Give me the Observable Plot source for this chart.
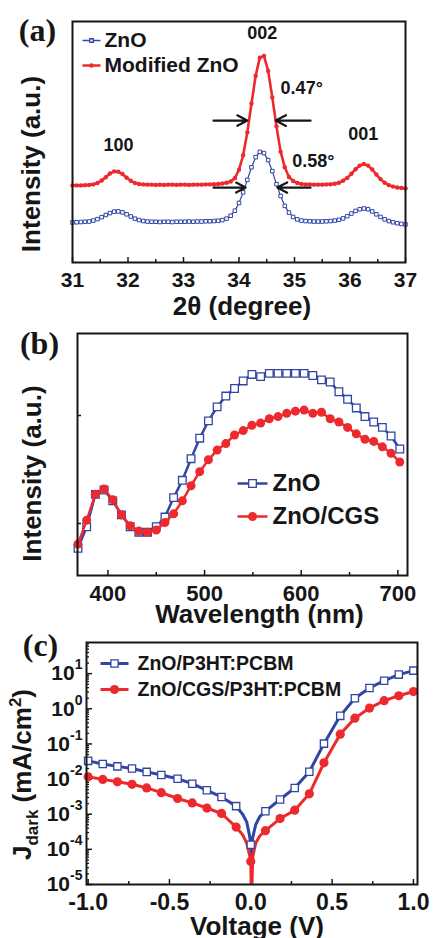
<!DOCTYPE html>
<html>
<head>
<meta charset="utf-8">
<script src="https://cdn.jsdelivr.net/npm/d3@7"></script>
<script src="https://cdn.jsdelivr.net/npm/@observablehq/plot@0.6"></script>
<style>
  html, body { margin: 0; padding: 0; background: #fff; }
  #chart { width: 433px; }
  #chart svg { display: block; overflow: visible; }
</style>
</head>
<body>
<div id="chart"></div>
<script>
// ---------------- Panel (a): XRD ----------------
const xrdAngle = [31.000,31.075,31.150,31.225,31.300,31.375,31.450,31.525,31.600,31.675,31.750,31.825,31.900,31.975,32.050,32.125,32.200,32.275,32.350,32.425,32.500,32.575,32.650,32.725,32.800,32.875,32.950,33.025,33.100,33.175,33.250,33.325,33.400,33.475,33.550,33.625,33.700,33.775,33.850,33.925,34.000,34.075,34.150,34.225,34.300,34.375,34.450,34.525,34.600,34.675,34.750,34.825,34.900,34.975,35.050,35.125,35.200,35.275,35.350,35.425,35.500,35.575,35.650,35.725,35.800,35.875,35.950,36.025,36.100,36.175,36.250,36.325,36.400,36.475,36.550,36.625,36.700,36.775,36.850,36.925,37.000];
const xrdZnO = [16.6,16.7,16.8,16.9,17.0,17.4,18.0,18.8,19.7,20.5,
  21.1,21.2,20.8,20.0,19.1,18.2,17.6,17.2,17.0,16.9,
  16.9,16.8,16.9,16.9,16.8,16.9,16.9,16.9,17.0,16.9,
  17.0,17.0,17.1,17.1,17.2,17.3,17.6,18.2,19.4,21.5,
  24.7,29.1,34.3,39.5,43.7,45.9,45.4,42.5,37.9,32.5,
  27.6,23.5,20.7,18.9,17.9,17.4,17.2,17.1,17.0,17.0,
  17.0,17.1,17.2,17.4,17.7,18.3,19.2,20.3,21.4,22.1,
  22.4,22.1,21.2,20.0,18.9,17.9,17.2,16.7,16.3,16.0,15.8];
const xrdModified = [32.0,32.0,32.0,32.1,32.2,32.4,33.0,34.0,35.4,36.9,
  37.8,37.7,36.7,35.2,33.9,33.0,32.6,32.4,32.3,32.3,
  32.2,32.3,32.2,32.3,32.3,32.2,32.3,32.3,32.2,32.3,
  32.3,32.3,32.4,32.4,32.5,32.6,32.8,33.1,33.6,35.0,
  38.5,44.5,54.0,66.0,77.5,85.0,85.7,79.5,68.5,56.5,
  46.0,39.5,35.5,33.8,33.0,32.6,32.4,32.4,32.3,32.3,
  32.3,32.4,32.5,32.7,33.1,33.9,35.1,36.8,38.7,40.2,
  40.9,40.2,38.6,36.5,34.6,33.1,32.1,31.5,31.1,30.9,30.7];
const xrdTicksMajor = [31, 32, 33, 34, 35, 36, 37];
const xrdTickLabels = ["31", "32", "33", "34", "35", "36", "37"];
const xrdTicksMinor = [31.5, 32.5, 33.5, 34.5, 35.5, 36.5];
const xrdPeakLabels = [
  {label: "002", angle: 34.42, intensity: 95.2},
  {label: "100", angle: 31.83, intensity: 48.5},
  {label: "001", angle: 36.24, intensity: 53.1},
  {label: "0.47°", angle: 35.13, intensity: 72.5},
  {label: "0.58°", angle: 35.34, intensity: 42.0}
];
const fwhmArrows = [
  {from: 33.54, to: 34.15, intensity: 58.9},
  {from: 35.29, to: 34.66, intensity: 58.9},
  {from: 33.54, to: 34.12, intensity: 31.1},
  {from: 35.29, to: 34.69, intensity: 31.1}
];
const xrdSeriesNames = ["ZnO", "Modified ZnO"];

// ---------------- Panel (b): PL ----------------
const plWavelength = [369,378,387,396,405,414,423,432,441,450,459,468,477,486,495,504,513,522,531,540,549,558,567,576,585,594,603,612,621,630,639,648,657,666,675,684,693,702];
const plZnO = [-0.23,-0.03,0.27,0.31,0.21,0.08,-0.03,-0.08,-0.08,-0.03,0.06,0.24,0.40,0.60,0.79,0.95,1.08,1.18,1.25,1.32,1.38,1.36,1.39,1.39,1.39,1.39,1.39,1.37,1.33,1.31,1.22,1.15,1.07,0.99,0.94,0.89,0.81,0.69];
const plZnOCGS = [-0.19,0.03,0.27,0.32,0.22,0.08,-0.02,-0.07,-0.08,-0.06,0.01,0.09,0.21,0.35,0.48,0.59,0.68,0.74,0.82,0.86,0.91,0.93,0.97,0.99,1.02,1.04,1.05,1.02,1.03,0.97,0.94,0.89,0.83,0.78,0.76,0.71,0.65,0.57];
const plTicksMajor = [400, 500, 600, 700];
const plTickLabels = ["400", "500", "600", "700"];
const plTicksMinor = [450, 550, 650];
const plTicksY = [0, 1];
const plSeriesNames = ["ZnO", "ZnO/CGS"];

// ---------------- Panel (c): dark J-V ----------------
const jvVoltage = [-1.00,-0.91,-0.82,-0.73,-0.64,-0.55,-0.45,-0.36,-0.27,-0.18,-0.09,0.00,0.09,0.18,0.27,0.36,0.45,0.55,0.64,0.73,0.82,0.91,1.00];
const jvZnO = [0.033,0.027,0.023,0.020,0.016,0.013,0.0102,0.0074,0.0048,0.0031,0.0017,0.000136,0.00122,0.00263,0.0056,0.0162,0.102,0.63,2.0,3.9,6.3,9.4,12.2];
const jvZnOCGS = [0.0116,0.0098,0.0084,0.0071,0.0056,0.0041,0.0028,0.0021,0.0015,0.00105,0.00043,0.000045,0.00034,0.00075,0.0013,0.0038,0.029,0.19,0.54,1.05,1.7,2.35,3.1];
const jvDipVoltage = [-0.05, -0.025, -0.008, 0.004, 0.012, 0.03, 0.055];
const jvDipZnO = [0.0010, 0.0006, 0.00025, 0.00006, 0.00022, 0.0005, 0.00085];
const jvDipZnOCGS = [0.00026, 0.00015, 0.00007, 0.000003, 0.00006, 0.00015, 0.00024];
const jvTicksMajor = [-1, -0.5, 0, 0.5, 1];
const jvTickLabels = ["-1.0", "-0.5", "0.0", "0.5", "1.0"];
const jvTicksMinor = [-0.75, -0.25, 0.25, 0.75];
const jDecades = [1e-5, 1e-4, 1e-3, 1e-2, 1e-1, 1, 10];
const jDecadeLabels = ["10^-5", "10^-4", "10^-3", "10^-2", "10^-1", "10^0", "10^1"];
const jvSeriesNames = ["ZnO/P3HT:PCBM", "ZnO/CGS/P3HT:PCBM"];

// ---------------- Text ----------------
const panelLetters = ["(a)", "(b)", "(c)"];
const intensityTitle = "Intensity (a.u.)";
const xrdXTitle = "2θ (degree)";
const plXTitle = "Wavelength (nm)";
const jvXTitle = "Voltage (V)";
const jvYTitle = "J_dark (mA/cm^2)";

// ---------------- Styles ----------------
const FONT = "Liberation Sans, Arial, Helvetica, sans-serif";
const SERIF = "Liberation Serif, Times New Roman, serif";
const BLUE = "#3145a5";
const RED = "#ec2a2e";
const INK = "#161616";

const segment = {draw(ctx, size) { const w = Math.sqrt(size / Math.PI); ctx.moveTo(-w, 0); ctx.lineTo(w, 0); }};

function legendEntry({dx, dy, color, label, marker, markerR, fontSize, half, lineWidth, textDx}) {
  return [
    Plot.dot([0], {frameAnchor: "top-left", dx, dy, r: half, symbol: segment, stroke: color, strokeWidth: lineWidth, fill: "none"}),
    marker === "square"
      ? Plot.dot([0], {frameAnchor: "top-left", dx, dy, r: markerR, symbol: "square", stroke: color, strokeWidth: 1.3, fill: "white"})
      : Plot.dot([0], {frameAnchor: "top-left", dx, dy, r: markerR, symbol: "circle", fill: color, stroke: "none"}),
    Plot.text([label], {frameAnchor: "top-left", dx: textDx, dy, textAnchor: "start", lineAnchor: "middle", fontSize, fontWeight: "bold", fontFamily: FONT, fill: INK})
  ];
}
function bottomTicks(major, minor, labels, fontSize, pad) {
  return [
    Plot.axisX(minor, {anchor: "bottom", tickSize: -3, strokeWidth: 1.5, stroke: INK, fill: "none", label: null}),
    Plot.axisX(major, {anchor: "bottom", tickSize: -5, strokeWidth: 1.5, stroke: INK, fill: "none", label: null}),
    Plot.axisX(major, {anchor: "bottom", tickSize: 0, tickPadding: pad, tickFormat: d => labels[major.indexOf(d)], fontSize, fontWeight: "bold", fontFamily: FONT, fill: INK, label: null})
  ];
}
function titleMarks({xTitle, xdx, xdy, yTitle, ydx, ydy, letter, ldx, ldy}) {
  return [
    Plot.text([xTitle], {frameAnchor: "bottom", dx: xdx, dy: xdy, textAnchor: "middle", lineAnchor: "middle", fontSize: 26, fontWeight: "bold", fontFamily: FONT, fill: INK}),
    Plot.text([yTitle], {frameAnchor: "left", dx: ydx, dy: ydy, rotate: -90, textAnchor: "middle", lineAnchor: "middle", fontSize: 26, fontWeight: "bold", fontFamily: FONT, fill: INK}),
    Plot.text([letter], {frameAnchor: "top-left", dx: ldx, dy: ldy, textAnchor: "middle", lineAnchor: "middle", fontSize: 32, fontWeight: "bold", fontFamily: SERIF, fill: INK})
  ];
}
const baseStyle = {background: "transparent", overflow: "visible"};

// ---------- (a) ----------
const xrdRows = xrdAngle.map((angle, i) => ({angle, zno: xrdZnO[i], modified: xrdModified[i]}));
const plotA = Plot.plot({
  width: 433, height: 322,
  marginTop: 21, marginRight: 28, marginBottom: 60, marginLeft: 72,
  style: baseStyle,
  x: {domain: [31, 37]},
  y: {domain: [0, 100], axis: null},
  marks: [
    ...bottomTicks(xrdTicksMajor, xrdTicksMinor, xrdTickLabels, 21, 10),
    Plot.line(xrdRows, {x: "angle", y: "zno", stroke: BLUE, strokeWidth: 1.2}),
    Plot.dot(xrdRows, {x: "angle", y: "zno", symbol: "square", r: 2, stroke: BLUE, strokeWidth: 1, fill: "white"}),
    Plot.line(xrdRows, {x: "angle", y: "modified", stroke: RED, strokeWidth: 2.6}),
    Plot.dot(xrdRows, {x: "angle", y: "modified", r: 2.2, fill: RED}),
    Plot.arrow(fwhmArrows, {x1: "from", x2: "to", y1: "intensity", y2: "intensity", stroke: INK, strokeWidth: 2.2, headLength: 9, headAngle: 55}),
    Plot.text(xrdPeakLabels, {x: "angle", y: "intensity", text: "label", fontSize: 18, fontWeight: "bold", fontFamily: FONT, fill: INK}),
    ...legendEntry({dx: 19, dy: 19, color: BLUE, label: xrdSeriesNames[0], marker: "square", markerR: 2, fontSize: 21, half: 9, lineWidth: 1.5, textDx: 32}),
    ...legendEntry({dx: 19, dy: 44, color: RED, label: xrdSeriesNames[1], marker: "circle", markerR: 2.2, fontSize: 21, half: 9, lineWidth: 2.5, textDx: 32}),
    ...titleMarks({xTitle: xrdXTitle, xdx: 3, xdy: 44, yTitle: intensityTitle, ydx: -41, ydy: 22, letter: panelLetters[0], ldx: -35, ldy: 9}),
    Plot.frame({stroke: INK, strokeWidth: 2})
  ]
});

// ---------- (b) ----------
const plRows = plWavelength.map((w, i) => ({w, zno: plZnO[i], cgs: plZnOCGS[i]}));
const plotB = Plot.plot({
  width: 433, height: 310,
  marginTop: 11, marginRight: 26, marginBottom: 57, marginLeft: 77,
  style: baseStyle,
  x: {domain: [368.5, 710]},
  y: {domain: [-0.481, 1.759]},
  marks: [
    ...bottomTicks(plTicksMajor, plTicksMinor, plTickLabels, 22, 10),
    Plot.axisY(plTicksY, {anchor: "left", tickSize: -4, strokeWidth: 1.5, stroke: INK, fill: "none", label: null}),
    Plot.line(plRows, {x: "w", y: "zno", stroke: BLUE, strokeWidth: 2.5}),
    Plot.dot(plRows, {x: "w", y: "zno", symbol: "square", r: 4.3, stroke: BLUE, strokeWidth: 1.3, fill: "white"}),
    Plot.line(plRows, {x: "w", y: "cgs", stroke: RED, strokeWidth: 2.5}),
    Plot.dot(plRows, {x: "w", y: "cgs", r: 4.5, fill: RED}),
    ...legendEntry({dx: 175, dy: 150, color: BLUE, label: plSeriesNames[0], marker: "square", markerR: 4.3, fontSize: 24, half: 15, lineWidth: 2.5, textDx: 195}),
    ...legendEntry({dx: 175, dy: 183, color: RED, label: plSeriesNames[1], marker: "circle", markerR: 4.5, fontSize: 24, half: 15, lineWidth: 2.5, textDx: 195}),
    ...titleMarks({xTitle: plXTitle, xdx: 17, xdy: 39, yTitle: intensityTitle, ydx: -45, ydy: 19, letter: panelLetters[1], ldx: -38, ldy: 10}),
    Plot.frame({stroke: INK, strokeWidth: 2})
  ]
});

// ---------- (c) ----------
const jvMarkerRows = jvVoltage.map((v, i) => ({v, zno: jvZnO[i], cgs: jvZnOCGS[i]}));
const jvLineRows = jvMarkerRows.concat(jvDipVoltage.map((v, i) => ({v, zno: jvDipZnO[i], cgs: jvDipZnOCGS[i]}))).sort((a, b) => a.v - b.v);
const jMinor = [];
for (const d of jDecades) for (let m = 2; m <= 9; m++) { const t = d * m; if (t < 77) jMinor.push(t); }
const plotC = Plot.plot({
  width: 433, height: 306,
  marginTop: 10, marginRight: 16, marginBottom: 54, marginLeft: 86,
  style: baseStyle,
  x: {domain: [-1.01, 1.025]},
  y: {type: "log", domain: [1e-5, 77]},
  marks: [
    ...bottomTicks(jvTicksMajor, jvTicksMinor, jvTickLabels, 23, 9),
    Plot.axisY(jMinor, {anchor: "left", tickSize: -3, strokeWidth: 1.3, stroke: INK, fill: "none", label: null}),
    Plot.axisY(jDecades, {anchor: "left", tickSize: -6, strokeWidth: 1.5, stroke: INK, fill: "none", label: null}),
    Plot.axisY(jDecades, {anchor: "left", tickSize: 0, tickPadding: 4, tickFormat: d => jDecadeLabels[jDecades.indexOf(d)], fontSize: 21, fontWeight: "bold", fontFamily: FONT, fill: INK, label: null}),
    Plot.line(jvLineRows, {x: "v", y: "zno", stroke: BLUE, strokeWidth: 3, clip: true}),
    Plot.line(jvLineRows, {x: "v", y: "cgs", stroke: RED, strokeWidth: 3, clip: true}),
    Plot.dot(jvMarkerRows, {x: "v", y: "zno", symbol: "square", r: 4.1, stroke: BLUE, strokeWidth: 1.3, fill: "white"}),
    Plot.dot(jvMarkerRows, {x: "v", y: "cgs", r: 4.6, fill: RED}),
    ...legendEntry({dx: 28, dy: 21, color: BLUE, label: jvSeriesNames[0], marker: "square", markerR: 4.1, fontSize: 19.5, half: 14, lineWidth: 3, textDx: 51}),
    ...legendEntry({dx: 28, dy: 47, color: RED, label: jvSeriesNames[1], marker: "circle", markerR: 4.6, fontSize: 19.5, half: 14, lineWidth: 3, textDx: 51}),
    ...titleMarks({xTitle: jvXTitle, xdx: 5, xdy: 42, yTitle: jvYTitle, ydx: -64, ydy: 11, letter: panelLetters[2], ldx: -46, ldy: 3}),
    Plot.frame({stroke: INK, strokeWidth: 2})
  ]
});

// ---------- rich text (superscripts / subscripts) ----------
const NS = "http://www.w3.org/2000/svg";
function setParts(t, parts) {
  t.textContent = "";
  for (const [s, fs, dy] of parts) {
    const sp = document.createElementNS(NS, "tspan");
    sp.textContent = s;
    if (fs) sp.setAttribute("font-size", fs);
    if (dy) sp.setAttribute("dy", dy);
    t.append(sp);
  }
}
plotC.querySelectorAll("text").forEach(t => {
  const m = /^10\^(-?\d+)$/.exec(t.textContent);
  if (m) setParts(t, [["10", null, null], [m[1], "14", "-11"]]);
  else if (t.textContent === jvYTitle) setParts(t, [["J", null, null], ["dark", "17", "7"], [" (mA/cm", "26", "-7"], ["2", "17", "-10"], [")", "26", "10"]]);
});

document.getElementById("chart").append(plotA, plotB, plotC);
</script>
</body>
</html>
